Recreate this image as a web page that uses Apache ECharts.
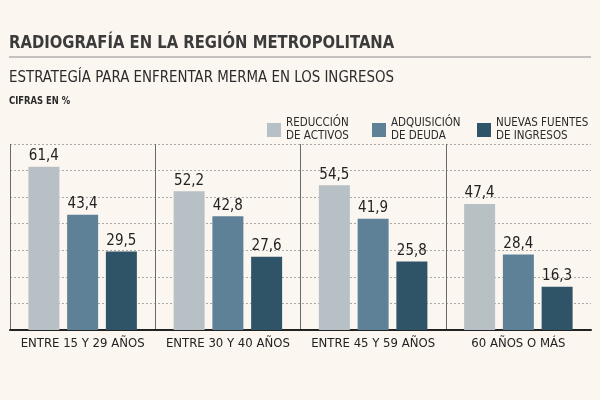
<!DOCTYPE html>
<html>
<head>
<meta charset="utf-8">
<script src="https://cdn.jsdelivr.net/npm/echarts@6/dist/echarts.min.js"></script>
<style>
  html, body { margin: 0; padding: 0; background: #fcf6f0; }
  #chart { width: 600px; height: 400px; }
</style>
</head>
<body>
<div id="chart"></div>
<script>
// grupos de edad
const ageGroups = ['ENTRE 15 Y 29 AÑOS', 'ENTRE 30 Y 40 AÑOS', 'ENTRE 45 Y 59 AÑOS', '60 AÑOS O MÁS'];
const seriesNames = ['REDUCCIÓN\nDE ACTIVOS', 'ADQUISICIÓN\nDE DEUDA', 'NUEVAS FUENTES\nDE INGRESOS'];
// cifras en %
const reduccionActivos = [61.4, 52.2, 54.5, 47.4];
const adquisicionDeuda = [43.4, 42.8, 41.9, 28.4];
const nuevasFuentes = [29.5, 27.6, 25.8, 16.3];
const colors = ['#b7c1c5', '#5f8197', '#2f5467'];

const FONT = '"DejaVu Sans Condensed", "Liberation Sans Narrow", "Roboto Condensed", "Noto Sans", sans-serif';

const chart = echarts.init(document.getElementById('chart'));

function makeSeries(name, data, color) {
  return {
    name,
    type: 'bar',
    data,
    barWidth: 31,
    barGap: '25%',
    itemStyle: { color },
    label: {
      show: true,
      position: 'top',
      distance: 3,
      fontFamily: FONT,
      fontSize: 15,
      color: '#222',
      formatter: (p) => p.value.toFixed(1).replace('.', ','),
    },
  };
}

chart.setOption({
  backgroundColor: '#fcf6f0',
  textStyle: { fontFamily: FONT },
  graphic: [
    {
      type: 'text', x: 9, y: 34, scaleX: 0.915,
      style: { text: 'RADIOGRAFÍA EN LA REGIÓN METROPOLITANA', font: 'bold 18px ' + FONT, fill: '#3b3b3b', verticalAlign: 'top' },
    },
    {
      type: 'line',
      shape: { x1: 9, y1: 57, x2: 591, y2: 57 },
      style: { stroke: '#8a8a8a', lineWidth: 1 },
    },
    {
      type: 'text', x: 9, y: 70, scaleX: 0.93,
      style: { text: 'ESTRATEGÍA PARA ENFRENTAR MERMA EN LOS INGRESOS', font: '16px ' + FONT, fill: '#2b2b2b', verticalAlign: 'top' },
    },
    {
      type: 'text', x: 9, y: 96, scaleX: 0.85,
      style: { text: 'CIFRAS EN %', font: 'bold 11px ' + FONT, fill: '#2b2b2b', verticalAlign: 'top' },
    },
  ],
  legend: {
    left: 262,
    top: 112,
    itemWidth: 14,
    itemHeight: 14,
    itemGap: 16,
    icon: 'rect',
    data: seriesNames,
    textStyle: { fontSize: 11.5, lineHeight: 13, color: '#2b2b2b', width: 70, fontFamily: FONT },
  },
  grid: { left: 10, right: 9, top: 144, bottom: 70 },
  xAxis: {
    type: 'category',
    data: ageGroups,
    axisLine: { lineStyle: { color: '#222', width: 2 } },
    axisTick: { show: false },
    axisLabel: { interval: 0, fontSize: 13, color: '#222', margin: 7, fontFamily: FONT },
    splitLine: {
      show: true,
      interval: 0,
      lineStyle: { color: ['#6a6a6a', '#6a6a6a', '#6a6a6a', '#6a6a6a', 'transparent'], width: 1 },
    },
  },
  yAxis: {
    type: 'value',
    min: 0,
    max: 70,
    interval: 10,
    axisLabel: { show: false },
    axisLine: { show: false },
    axisTick: { show: false },
    splitLine: { lineStyle: { color: '#a8a8a8', type: [2, 2], width: 1 } },
  },
  series: [
    makeSeries(seriesNames[0], reduccionActivos, colors[0]),
    makeSeries(seriesNames[1], adquisicionDeuda, colors[1]),
    makeSeries(seriesNames[2], nuevasFuentes, colors[2]),
  ],
});
</script>
</body>
</html>
